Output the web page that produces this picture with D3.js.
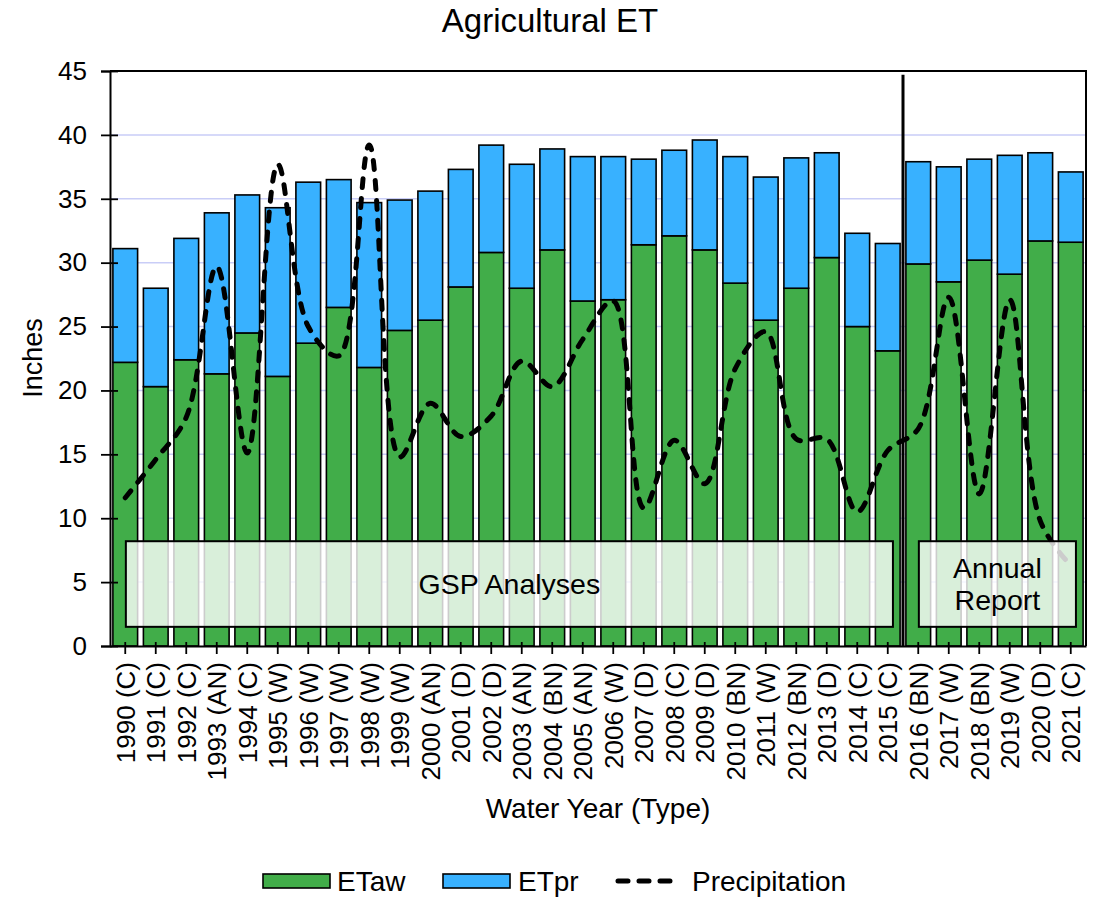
<!DOCTYPE html>
<html>
<head>
<meta charset="utf-8">
<script src="https://cdn.jsdelivr.net/npm/d3@7"></script>
<style>
  html, body { margin: 0; padding: 0; background: #fff; }
  svg { display: block; font-family: "Liberation Sans", Arial, sans-serif; }
</style>
</head>
<body>
<svg id="chart" width="1099" height="897"></svg>
<script>
// Water years and their year-type classification
const years = ["1990","1991","1992","1993","1994","1995","1996","1997","1998","1999",
  "2000","2001","2002","2003","2004","2005","2006","2007","2008","2009",
  "2010","2011","2012","2013","2014","2015","2016","2017","2018","2019","2020","2021"];
const yearTypes = ["C","C","C","AN","C","W","W","W","W","W",
  "AN","D","D","AN","BN","AN","W","D","C","D",
  "BN","W","BN","D","C","C","BN","W","BN","W","D","C"];

// ET from applied water (inches)
const etaw = [22.2, 20.3, 22.4, 21.3, 24.5, 21.1, 23.7, 26.5, 21.8, 24.7,
  25.5, 28.1, 30.8, 28.0, 31.0, 27.0, 27.1, 31.4, 32.1, 31.0,
  28.4, 25.5, 28.0, 30.4, 25.0, 23.1, 29.9, 28.5, 30.2, 29.1, 31.7, 31.6];
// ET from precipitation (inches)
const etpr = [8.9, 7.7, 9.5, 12.6, 10.8, 13.2, 12.6, 10.0, 12.9, 10.2,
  10.1, 9.2, 8.4, 9.7, 7.9, 11.3, 11.2, 6.7, 6.7, 8.6,
  9.9, 11.2, 10.2, 8.2, 7.3, 8.4, 8.0, 9.0, 7.9, 9.3, 6.9, 5.5];
// Annual precipitation (inches)
const precipitation = [11.6, 14.6, 17.9, 29.7, 15.1, 37.7, 25.0, 22.7, 39.2, 14.8,
  19.0, 16.4, 18.0, 22.3, 20.3, 24.0, 27.0, 10.8, 16.1, 12.7,
  21.7, 24.6, 16.2, 16.2, 10.5, 15.3, 17.0, 27.3, 11.9, 27.1, 9.8, 6.3];

const yTicks = [0, 5, 10, 15, 20, 25, 30, 35, 40, 45];

// Analysis periods shown as labelled boxes (first / last year index)
const periods = [
  { lines: ["GSP Analyses"], from: 0, to: 25 },
  { lines: ["Annual", "Report"], from: 26, to: 31 }
];

const labels = years.map((y, i) => `${y} (${yearTypes[i]})`);
const rows = years.map((y, i) => ({ label: labels[i], etaw: etaw[i], etpr: etpr[i], precip: precipitation[i] }));

const svg = d3.select("#chart");
const plot = { left: 110, right: 1086, top: 71, bottom: 646 };
const green = "#41AD49", blue = "#38B1FF", gridColor = "#C9CDF7";

const x = d3.scaleBand().domain(labels).range([plot.left, plot.right]).paddingInner(0.19).paddingOuter(0.095);
const y = d3.scaleLinear().domain([0, 45]).range([plot.bottom, plot.top]);
// continuous position by year index (band units)
const xi = d3.scaleLinear().domain([0, years.length]).range([plot.left, plot.right]);

// title
svg.append("text").attr("x", 550).attr("y", 32).attr("text-anchor", "middle")
  .attr("font-size", 33).attr("fill", "#000").text("Agricultural ET");

// gridlines
svg.append("g").selectAll("line").data(yTicks.filter(t => t > 0 && t < 45)).join("line")
  .attr("x1", plot.left).attr("x2", plot.right).attr("y1", d => y(d)).attr("y2", d => y(d))
  .attr("stroke", gridColor).attr("stroke-width", 1.5);

// stacked bars
const bars = svg.append("g");
bars.selectAll("rect.aw").data(rows).join("rect").attr("class", "aw")
  .attr("x", d => x(d.label)).attr("width", x.bandwidth())
  .attr("y", d => y(d.etaw)).attr("height", d => y(0) - y(d.etaw))
  .attr("fill", green).attr("stroke", "#000").attr("stroke-width", 1.6);
bars.selectAll("rect.pr").data(rows).join("rect").attr("class", "pr")
  .attr("x", d => x(d.label)).attr("width", x.bandwidth())
  .attr("y", d => y(d.etaw + d.etpr)).attr("height", d => y(d.etaw) - y(d.etaw + d.etpr))
  .attr("fill", blue).attr("stroke", "#000").attr("stroke-width", 1.6);

// precipitation line
const line = d3.line()
  .x(d => x(d.label) + x.bandwidth() / 2)
  .y(d => y(d.precip))
  .curve(d3.curveCatmullRom.alpha(0.5));
svg.append("path").datum(rows).attr("d", line)
  .attr("fill", "none").attr("stroke", "#000").attr("stroke-width", 5)
  .attr("stroke-dasharray", "9,11").attr("stroke-linecap", "round");

// period boxes
const boxG = svg.append("g");
periods.forEach(p => {
  const x0 = xi(p.from + 0.52), x1 = xi(p.to + 0.67);
  const y0 = y(8.2), y1 = y(1.5);
  boxG.append("rect").attr("x", x0).attr("y", y0).attr("width", x1 - x0).attr("height", y1 - y0)
    .attr("fill", "rgba(255,255,255,0.8)").attr("stroke", "#000").attr("stroke-width", 2);
  const cx = (x0 + x1) / 2, cy = (y0 + y1) / 2;
  const lh = 32;
  p.lines.forEach((t, k) => {
    boxG.append("text").attr("x", cx)
      .attr("y", cy + (k - (p.lines.length - 1) / 2) * lh).attr("dy", "0.35em")
      .attr("text-anchor", "middle").attr("font-size", 28.5).attr("fill", "#000").text(t);
  });
});

// divider between analysis periods
svg.append("line").attr("x1", xi(26)).attr("x2", xi(26)).attr("y1", y(44.7)).attr("y2", plot.bottom)
  .attr("stroke", "#000").attr("stroke-width", 3);

// plot border (top and right)
svg.append("path").attr("d", `M${plot.left},${plot.top}H${plot.right}V${plot.bottom}`)
  .attr("fill", "none").attr("stroke", "#000").attr("stroke-width", 2);

// y axis
const yAxis = svg.append("g").attr("transform", `translate(${plot.left},0)`)
  .call(d3.axisLeft(y).tickValues(yTicks).tickSize(9).tickPadding(14));
yAxis.select(".domain").attr("stroke", "#000").attr("stroke-width", 2);
yAxis.selectAll(".tick line").attr("x1", 8).attr("stroke", "#000").attr("stroke-width", 1.8);
yAxis.selectAll(".tick text").attr("font-size", 26).attr("font-family", "Liberation Sans, Arial, sans-serif").attr("fill", "#000");

// x axis
const xAxis = svg.append("g").attr("transform", `translate(0,${plot.bottom})`)
  .call(d3.axisBottom(x).tickSize(8).tickSizeOuter(0));
xAxis.select(".domain").attr("stroke", "#000").attr("stroke-width", 2);
xAxis.selectAll(".tick line").attr("y1", -4).attr("stroke", "#000").attr("stroke-width", 1.8);
xAxis.selectAll(".tick text").attr("font-size", 26).attr("font-family", "Liberation Sans, Arial, sans-serif")
  .attr("fill", "#000").attr("text-anchor", "end")
  .attr("transform", "rotate(-90)").attr("x", -16).attr("y", 0).attr("dy", "0.36em");

// axis titles
svg.append("text").attr("x", 598).attr("y", 818).attr("text-anchor", "middle")
  .attr("font-size", 28).attr("fill", "#000").text("Water Year (Type)");
svg.append("text").attr("transform", `translate(42,358) rotate(-90)`).attr("text-anchor", "middle")
  .attr("font-size", 27).attr("fill", "#000").text("Inches");

// legend
const lg = svg.append("g").attr("transform", "translate(0,881)");
const items = [
  { type: "rect", color: green, label: "ETaw", x: 263, tx: 337 },
  { type: "rect", color: blue, label: "ETpr", x: 443, tx: 518 },
  { type: "line", label: "Precipitation", x: 615, tx: 692 }
];
items.forEach(it => {
  if (it.type === "rect") {
    lg.append("rect").attr("x", it.x).attr("y", -7).attr("width", 67).attr("height", 14)
      .attr("fill", it.color).attr("stroke", "#000").attr("stroke-width", 1.6);
  } else {
    lg.append("line").attr("x1", it.x + 3).attr("x2", it.x + 65).attr("y1", 0).attr("y2", 0)
      .attr("stroke", "#000").attr("stroke-width", 5).attr("stroke-dasharray", "10,11")
      .attr("stroke-linecap", "round");
  }
  lg.append("text").attr("x", it.tx).attr("y", 0).attr("dy", "0.35em")
    .attr("font-size", 28).attr("fill", "#000").text(it.label);
});
</script>
</body>
</html>
